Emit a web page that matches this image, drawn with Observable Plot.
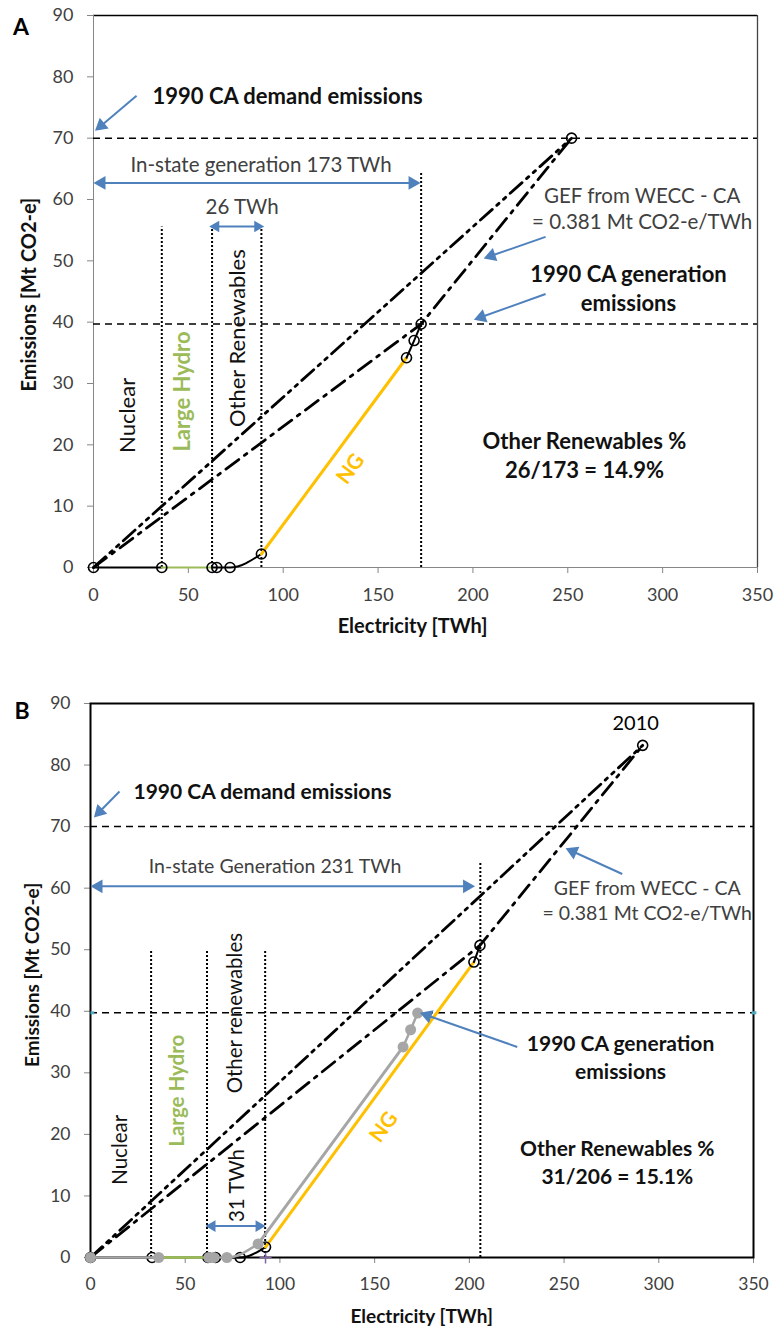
<!DOCTYPE html>
<html>
<head>
<meta charset="utf-8">
<script src="https://cdn.jsdelivr.net/npm/d3@7"></script>
<script src="https://cdn.jsdelivr.net/npm/@observablehq/plot@0.6"></script>
<style>
  html, body { margin: 0; padding: 0; background: #fff; }
  #wrap { position: relative; width: 778px; height: 1329px; overflow: hidden; background: #fff; }
  #panelA, #panelB { position: absolute; left: 0; }
  #panelA { top: 0; }
  #panelB { top: 640px; }
  svg { display: block; }
</style>
</head>
<body>
<div id="wrap"><div id="panelA"></div><div id="panelB"></div></div>
<script>
// ---------------- shared ticks ----------------
const xTicks = [0, 50, 100, 150, 200, 250, 300, 350];
const yTicks = [0, 10, 20, 30, 40, 50, 60, 70, 80, 90];

// ---------------- Panel A : 1990 ----------------
// cumulative in-state supply curve (Nuclear, Large Hydro, Other renewables, NG, rest)
const aSupplyX = [0, 36, 62.5, 65, 72, 88.5, 165, 169, 172.7];
const aSupplyY = [0, 0, 0, 0, 0, 2.2, 34.2, 37, 39.7];
const aDemandPoint = [252, 70];
const aDemandLevel = 70;
const aGenerationLevel = 39.7;
const aDividerX = [36, 62.5, 88.5];
const aDividerTop = 55.5;
const aInStateX = 172.7;
const aInStateTop = 64.5;
// arrows: [x1, y1, x2, y2, doubleHeaded, small]
const aArrows = [
  [22.7, 76.9, 0.8, 71.2, false, false],
  [0, 62.7, 172.4, 62.7, true, false],
  [61, 55.6, 90, 55.6, true, true],
  [238.3, 53.9, 205.7, 50.4, false, false],
  [238.3, 44.6, 200.5, 40.4, false, false]
];
const aBoldLabels = [
  ["1990 CA generation\nemissions", 282, 45.7],
  ["Other Renewables %\n26/173 = 14.9%", 258.8, 18.5]
];
const aBoldStartLabels = [["1990 CA demand emissions", 31.1, 76.8]];
const aRegularLabels = [
  ["In-state generation 173 TWh", 88.3, 65.9],
  ["26 TWh", 78.3, 59.0],
  ["GEF from WECC - CA\n= 0.381 Mt CO2-e/TWh", 289.2, 58.6]
];
const aRotLabels = [["Nuclear", 17.9, 24.8], ["Other Renewables", 75.9, 37.4]];
const aHydroLabel = [["Large Hydro", 47.4, 28.7]];
const aNGLabel = [["NG", 135.5, 16.1]];
const aPanelLetter = [["A", -38.2, 88.0]];
const aXTitle = [["Electricity [TWh]", 168.2, -9.6]];
const aYTitle = [["Emissions [Mt CO2-e]", -33.7, 44.5]];

// ---------------- Panel B : 2010 ----------------
const bSupplyX = [0, 32.5, 62, 66, 79, 92.4, 202.4, 205.6];
const bSupplyY = [0, 0, 0, 0, 0, 1.7, 48, 50.7];
const bDemandPoint = [291.5, 83.2];
const bDemandLevel = 70;
const bGenerationLevel = 39.75;
const bDividerX = [32, 61.5, 92.2];
const bDividerTop = 50;
const bInStateX = 205.8;
const bInStateTop = 64.2;
const bArrows = [
  [15.3, 75.7, 1.8, 71.5, false, false],
  [0, 60.3, 203, 60.3, true, false],
  [60.7, 5.1, 92.4, 5.1, true, true],
  [280.7, 62.3, 250.8, 66.5, false, false],
  [225.3, 34.2, 173.9, 39.75, false, false]
];
const bBoldLabels = [
  ["1990 CA generation\nemissions", 279.8, 32.7],
  ["Other Renewables %\n31/206 = 15.1%", 278.1, 15.6]
];
const bBoldStartLabels = [["1990 CA demand emissions", 22.7, 75.6]];
const bRegularLabels = [
  ["In-state Generation 231 TWh", 97.4, 63.8],
  ["GEF from WECC - CA\n= 0.381 Mt CO2-e/TWh", 293.9, 58.1]
];
const bYearLabel = [["2010", 287.8, 86.7]];
const bRotLabels = [["Nuclear", 15.8, 17.5], ["Other renewables", 76.6, 39.7], ["31 TWh", 77.8, 11.7]];
const bHydroLabel = [["Large Hydro", 45.8, 27.1]];
const bNGLabel = [["NG", 154.9, 21.2]];
const bPanelLetter = [["B", -36.1, 88.7]];
const bXTitle = [["Electricity [TWh]", 174.8, -9.6]];
const bYTitle = [["Emissions [Mt CO2-e]", -30.6, 45.9]];
const bMarkerY = [39.75];
const bMarkerPlusX = [92.4];

// ---------------- styling ----------------
const FONT = "Lato, 'Open Sans', sans-serif";
const BLUE = "#4F81BD", GOLD = "#FFC000", GREEN = "#9BBB59", GRAY = "#A6A6A6", AXIS = "#868686", INK = "#404040";
const DASHDOT = "16,7,3,7";
const DASHDOTDOT = "16,6,3,6,3,6";
const W = 778;

const seg = (X, Y, i0, i1) => X.slice(i0, i1 + 1).map((x, k) => [x, Y[i0 + k]]);
const P = {x: d => d[0], y: d => d[1]};

function arrowMarks(list, kx, ky) {
  const shafts = [], headsBig = [], headsSmall = [];
  for (const [x1, y1, x2, y2, dbl, small] of list) {
    const L = small ? 10 : 12;             // head length px
    const yc = L / 3;
    const dxp = (x2 - x1) * kx, dyp = -(y2 - y1) * ky;
    const len = Math.hypot(dxp, dyp);
    const ux = dxp / len, uy = dyp / len;
    const back = 2 * yc;
    const head = (tx, ty, vx, vy) => ({x: tx - vx * back / kx, y: ty + vy * back / ky, rot: Math.atan2(vx, -vy) * 180 / Math.PI});
    const heads = small ? headsSmall : headsBig;
    heads.push(head(x2, y2, ux, uy));
    let sx = x1, sy = y1;
    if (dbl) { heads.push(head(x1, y1, -ux, -uy)); sx = x1 + ux * back / kx; sy = y1 - uy * back / ky; }
    shafts.push({x1: sx, y1: sy, x2: x2 - ux * back / kx, y2: y2 + uy * back / ky});
  }
  return [
    Plot.link(shafts, {x1: "x1", y1: "y1", x2: "x2", y2: "y2", stroke: BLUE, strokeWidth: 2}),
    Plot.dot(headsBig, {x: "x", y: "y", rotate: "rot", symbol: "triangle", r: 12 / 3 / 0.7776, fill: BLUE, stroke: null}),
    Plot.dot(headsSmall, {x: "x", y: "y", rotate: "rot", symbol: "triangle", r: 10 / 3 / 0.7776, fill: BLUE, stroke: null})
  ];
}

function txt(list, opts) {
  return Plot.text(list, {x: d => d[1], y: d => d[2], text: d => d[0], fontFamily: FONT, lineAnchor: "middle", ...opts});
}

function supplyMarks(X, Y, idx, lineColor, hydroColor, ngColor, width) {
  // idx: [nuclearEnd, hydroEnd, otherEnd, ngEnd, last]
  const [n1, h1, o1, g1, last] = idx;
  return [
    Plot.line(seg(X, Y, 0, n1), {...P, stroke: lineColor, strokeWidth: width}),
    Plot.line(seg(X, Y, n1, h1), {...P, stroke: hydroColor, strokeWidth: width}),
    Plot.line(seg(X, Y, h1, o1), {...P, stroke: lineColor, strokeWidth: width, curve: "monotone-x"}),
    Plot.line(seg(X, Y, o1, g1), {...P, stroke: ngColor, strokeWidth: 3}),
    Plot.line(seg(X, Y, g1, last), {...P, stroke: lineColor, strokeWidth: width})
  ];
}

// ================= Panel A =================
{
  const h = 640, mt = 15, mr = 21, mb = 73, ml = 93;
  const kx = (W - ml - mr) / 350, ky = (h - mt - mb) / 90;
  const last = aSupplyX.length - 1;
  const plot = Plot.plot({
    width: W, height: h, marginTop: mt, marginRight: mr, marginBottom: mb, marginLeft: ml,
    x: {domain: [0, 350]}, y: {domain: [0, 90]},
    style: {fontFamily: FONT, background: "white", overflow: "visible"},
    marks: [
      Plot.ruleY([90], {stroke: "#000", strokeWidth: 1.3}),
      Plot.ruleX([350], {stroke: "#444", strokeWidth: 1.3}),
      Plot.ruleX([0], {stroke: AXIS, strokeWidth: 1}),
      Plot.ruleY([0], {stroke: AXIS, strokeWidth: 1}),
      Plot.axisY(yTicks, {tickSize: 6, tickPadding: 14, stroke: AXIS, fill: INK, fontSize: 18, label: null}),
      Plot.axisX(xTicks, {tickSize: 6, tickPadding: 15, stroke: AXIS, fill: INK, fontSize: 18, label: null}),
      Plot.ruleY([aDemandLevel, aGenerationLevel], {stroke: "#000", strokeWidth: 1.5, strokeDasharray: "7,5"}),
      Plot.ruleX(aDividerX, {y1: 0, y2: aDividerTop, stroke: "#000", strokeWidth: 2, strokeDasharray: "2,2"}),
      Plot.ruleX([aInStateX], {y1: 0, y2: aInStateTop, stroke: "#000", strokeWidth: 2, strokeDasharray: "2,2"}),
      Plot.line([[0, 0], aDemandPoint], {...P, stroke: "#000", strokeWidth: 2.8, strokeDasharray: DASHDOTDOT}),
      Plot.line([[0, 0], [aSupplyX[last], aSupplyY[last]], aDemandPoint], {...P, stroke: "#000", strokeWidth: 2.8, strokeDasharray: DASHDOT}),
      ...supplyMarks(aSupplyX, aSupplyY, [1, 2, 5, 6, last], "#000", GREEN, GOLD, 2),
      Plot.dot([...seg(aSupplyX, aSupplyY, 0, last), aDemandPoint], {...P, r: 5, stroke: "#000", strokeWidth: 1.6, fill: "none"}),
      ...arrowMarks(aArrows, kx, ky),
      txt(aBoldStartLabels, {textAnchor: "start", fontWeight: 700, fontSize: 22, fill: "#111"}),
      txt(aBoldLabels, {fontWeight: 700, fontSize: 22, fill: "#111", lineHeight: 1.34}),
      txt(aRegularLabels, {fontSize: 20.5, fill: INK, lineHeight: 1.25}),
      txt(aRotLabels, {rotate: -90, fontSize: 22, fill: "#111"}),
      txt(aHydroLabel, {rotate: -90, fontSize: 22, fontWeight: 700, fill: GREEN}),
      txt(aNGLabel, {rotate: -53.5, fontSize: 21, fontWeight: 700, fill: GOLD}),
      txt(aPanelLetter, {fontSize: 23, fontWeight: 700, fill: "#000"}),
      txt(aXTitle, {fontSize: 20, fontWeight: 700, fill: "#111"}),
      txt(aYTitle, {rotate: -90, fontSize: 20, fontWeight: 700, fill: "#111"})
    ]
  });
  document.getElementById("panelA").appendChild(plot);
}

// ================= Panel B =================
{
  const h = 689, mt = 63, mr = 25, mb = 72, ml = 90;
  const kx = (W - ml - mr) / 350, ky = (h - mt - mb) / 90;
  const lastB = bSupplyX.length - 1;
  const lastA = aSupplyX.length - 1;
  const plot = Plot.plot({
    width: W, height: h, marginTop: mt, marginRight: mr, marginBottom: mb, marginLeft: ml,
    x: {domain: [0, 350]}, y: {domain: [0, 90]},
    style: {fontFamily: FONT, background: "white", overflow: "visible"},
    marks: [
      Plot.axisY(yTicks, {tickSize: 6, tickPadding: 14, stroke: AXIS, fill: INK, fontSize: 17.5, label: null}),
      Plot.axisX(xTicks, {tickSize: 6, tickPadding: 14, stroke: AXIS, fill: INK, fontSize: 17.5, label: null}),
      Plot.frame({stroke: "#000", strokeWidth: 2}),
      Plot.ruleY([bDemandLevel, bGenerationLevel], {stroke: "#000", strokeWidth: 1.5, strokeDasharray: "7,5"}),
      Plot.link(bMarkerY, {x1: 0, x2: 2, y1: d => d, y2: d => d, stroke: "#4BACC6", strokeWidth: 3}),
      Plot.link(bMarkerY, {x1: 349, x2: 351.5, y1: d => d, y2: d => d, stroke: "#4BACC6", strokeWidth: 3}),
      Plot.ruleX(bDividerX, {y1: 0, y2: bDividerTop, stroke: "#000", strokeWidth: 2, strokeDasharray: "2,2"}),
      Plot.ruleX([bInStateX], {y1: 0, y2: bInStateTop, stroke: "#000", strokeWidth: 2, strokeDasharray: "2,2"}),
      Plot.line([[0, 0], bDemandPoint], {...P, stroke: "#000", strokeWidth: 2.8, strokeDasharray: DASHDOTDOT}),
      Plot.line([[0, 0], [bSupplyX[lastB], bSupplyY[lastB]], bDemandPoint], {...P, stroke: "#000", strokeWidth: 2.8, strokeDasharray: DASHDOT}),
      ...supplyMarks(bSupplyX, bSupplyY, [1, 2, 5, 6, lastB], "#000", GREEN, GOLD, 2),
      Plot.dot(bMarkerPlusX, {x: d => d, y: 0, symbol: "plus", r: 4, stroke: "#8064A2", strokeWidth: 1.5}),
      Plot.dot([...seg(bSupplyX, bSupplyY, 0, lastB), bDemandPoint], {...P, r: 5, stroke: "#000", strokeWidth: 1.6, fill: "none"}),
      // 1990 supply curve shown in grey for comparison
      ...supplyMarks(aSupplyX, aSupplyY, [1, 2, 5, 6, lastA], GRAY, GREEN, GRAY, 2.5),
      Plot.dot(seg(aSupplyX, aSupplyY, 0, lastA), {...P, r: 5.5, fill: GRAY, stroke: null}),
      ...arrowMarks(bArrows, kx, ky),
      txt(bBoldStartLabels, {textAnchor: "start", fontWeight: 700, fontSize: 21, fill: "#111"}),
      txt(bBoldLabels, {fontWeight: 700, fontSize: 21, fill: "#111", lineHeight: 1.32}),
      txt(bRegularLabels, {fontSize: 19.5, fill: INK, lineHeight: 1.27}),
      txt(bYearLabel, {fontSize: 20, fill: "#000"}),
      txt(bRotLabels, {rotate: -90, fontSize: 20.5, fill: "#111"}),
      txt(bHydroLabel, {rotate: -90, fontSize: 20.5, fontWeight: 700, fill: GREEN}),
      txt(bNGLabel, {rotate: -53.8, fontSize: 21, fontWeight: 700, fill: GOLD}),
      txt(bPanelLetter, {fontSize: 23, fontWeight: 700, fill: "#000"}),
      txt(bXTitle, {fontSize: 19, fontWeight: 700, fill: "#111"}),
      txt(bYTitle, {rotate: -90, fontSize: 19, fontWeight: 700, fill: "#111"})
    ]
  });
  document.getElementById("panelB").appendChild(plot);
}
</script>
</body>
</html>
